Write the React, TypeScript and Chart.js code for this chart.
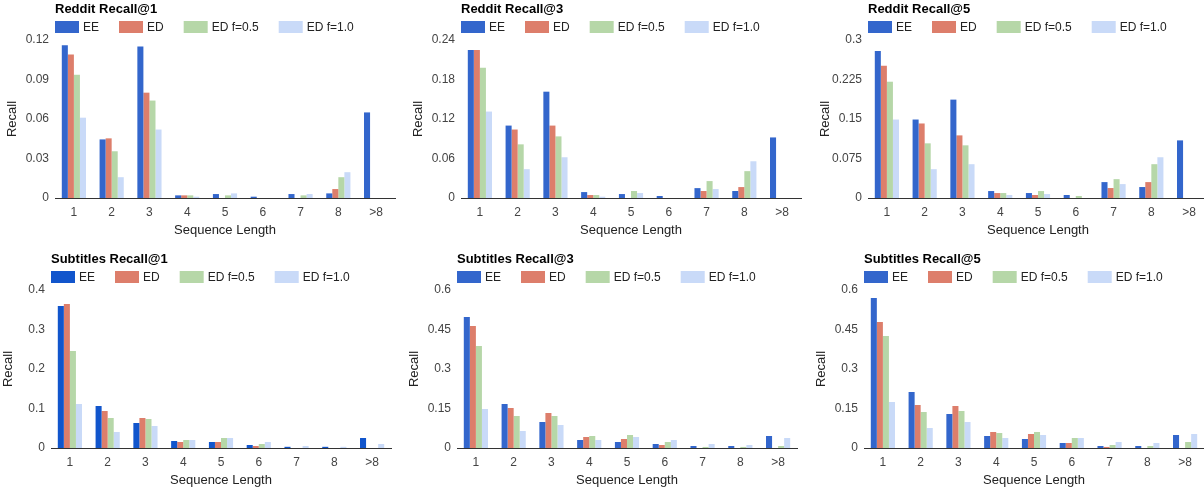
import React, { useEffect, useRef } from "react";
import { Chart, registerables } from "chart.js";

Chart.register(...registerables);

const FONT = '"Liberation Sans", Arial, Helvetica, sans-serif';
Chart.defaults.font.family = FONT;

const categories = ["1", "2", "3", "4", "5", "6", "7", "8", ">8"];
const seriesNames = ["EE", "ED", "ED f=0.5", "ED f=1.0"];

// Reddit Recall@1
const redditR1EE = [0.116, 0.0445, 0.115, 0.002, 0.003, 0.001, 0.003, 0.0035, 0.065];
const redditR1ED = [0.109, 0.0453, 0.08, 0.002, 0, 0, 0, 0.0068, 0];
const redditR1F05 = [0.0936, 0.0355, 0.074, 0.002, 0.002, 0, 0.002, 0.0158, 0];
const redditR1F10 = [0.061, 0.0158, 0.052, 0.001, 0.0035, 0, 0.003, 0.0196, 0];
const redditR1Ticks = ["0", "0.03", "0.06", "0.09", "0.12"];

// Reddit Recall@3
const redditR3EE = [0.225, 0.11, 0.1615, 0.009, 0.006, 0.003, 0.015, 0.0106, 0.092];
const redditR3ED = [0.225, 0.104, 0.11, 0.0045, 0, 0, 0.0106, 0.0166, 0];
const redditR3F05 = [0.1977, 0.0815, 0.0936, 0.0045, 0.0106, 0, 0.0257, 0.0408, 0];
const redditR3F10 = [0.1313, 0.0438, 0.0619, 0.002, 0.0075, 0, 0.0136, 0.0558, 0];
const redditR3Ticks = ["0", "0.06", "0.12", "0.18", "0.24"];

// Reddit Recall@5
const redditR5EE = [0.2792, 0.149, 0.1868, 0.0132, 0.0094, 0.0057, 0.0302, 0.0208, 0.1094];
const redditR5ED = [0.251, 0.1415, 0.1189, 0.0094, 0.0057, 0, 0.0189, 0.0302, 0];
const redditR5F05 = [0.2208, 0.1038, 0.1, 0.0094, 0.0132, 0.0038, 0.0358, 0.0642, 0];
const redditR5F10 = [0.149, 0.0547, 0.0642, 0.0057, 0.0075, 0, 0.0264, 0.0774, 0];
const redditR5Ticks = ["0", "0.075", "0.15", "0.225", "0.3"];

// Subtitles Recall@1
const subsR1EE = [0.3595, 0.1063, 0.0633, 0.0177, 0.0152, 0.0076, 0.003, 0.003, 0.0253];
const subsR1ED = [0.3646, 0.0937, 0.076, 0.0152, 0.0152, 0.005, 0, 0, 0];
const subsR1F05 = [0.2456, 0.076, 0.0734, 0.0203, 0.0253, 0.0101, 0, 0, 0];
const subsR1F10 = [0.1114, 0.0405, 0.0557, 0.0203, 0.0253, 0.0152, 0.005, 0.003, 0.0101];
const subsR1Ticks = ["0", "0.1", "0.2", "0.3", "0.4"];

// Subtitles Recall@3
const subsR3EE = [0.4975, 0.167, 0.0987, 0.0304, 0.0228, 0.0152, 0.0076, 0.0076, 0.0456];
const subsR3ED = [0.4633, 0.152, 0.1329, 0.0418, 0.0342, 0.0114, 0, 0, 0];
const subsR3F05 = [0.3873, 0.1215, 0.1215, 0.0456, 0.0494, 0.0228, 0.004, 0.004, 0.0076];
const subsR3F10 = [0.1481, 0.0646, 0.0873, 0.0304, 0.0418, 0.0304, 0.0152, 0.0114, 0.038];
const subsR3Ticks = ["0", "0.15", "0.3", "0.45", "0.6"];

// Subtitles Recall@5
const subsR5EE = [0.5696, 0.2127, 0.1291, 0.0456, 0.0342, 0.019, 0.0076, 0.0076, 0.0494];
const subsR5ED = [0.4785, 0.1633, 0.1595, 0.0608, 0.0532, 0.019, 0.004, 0, 0];
const subsR5F05 = [0.4253, 0.1367, 0.1405, 0.057, 0.0608, 0.038, 0.0114, 0.0076, 0.0228];
const subsR5F10 = [0.1747, 0.076, 0.0987, 0.038, 0.0494, 0.038, 0.0228, 0.019, 0.0532];
const subsR5Ticks = ["0", "0.15", "0.3", "0.45", "0.6"];

const COLOR_EE = "#3366cc";
const COLOR_EE_DARK = "#1155cc";
const COLOR_ED = "#dd7e6b";
const COLOR_F05 = "#b6d7a8";
const COLOR_F10 = "#c9daf8";

type PanelDef = {
  title: string;
  series: number[][];
  ticks: string[];
  eeColor: string;
  left: number;
  top: number;
};

const panels: PanelDef[] = [
  { title: "Reddit Recall@1", series: [redditR1EE, redditR1ED, redditR1F05, redditR1F10], ticks: redditR1Ticks, eeColor: COLOR_EE, left: 0, top: 0 },
  { title: "Reddit Recall@3", series: [redditR3EE, redditR3ED, redditR3F05, redditR3F10], ticks: redditR3Ticks, eeColor: COLOR_EE, left: 406, top: 0 },
  { title: "Reddit Recall@5", series: [redditR5EE, redditR5ED, redditR5F05, redditR5F10], ticks: redditR5Ticks, eeColor: COLOR_EE, left: 813, top: 0 },
  { title: "Subtitles Recall@1", series: [subsR1EE, subsR1ED, subsR1F05, subsR1F10], ticks: subsR1Ticks, eeColor: COLOR_EE_DARK, left: -4, top: 250 },
  { title: "Subtitles Recall@3", series: [subsR3EE, subsR3ED, subsR3F05, subsR3F10], ticks: subsR3Ticks, eeColor: COLOR_EE, left: 402, top: 250 },
  { title: "Subtitles Recall@5", series: [subsR5EE, subsR5ED, subsR5F05, subsR5F10], ticks: subsR5Ticks, eeColor: COLOR_EE, left: 809, top: 250 },
];

const CANVAS_W = 400;
const CANVAS_H = 240;

const headerPlugin = {
  id: "header",
  afterDraw(chart: any, _args: any, opts: any) {
    const { ctx, chartArea } = chart;
    const x0 = chartArea.left;
    ctx.save();
    ctx.textAlign = "left";
    ctx.textBaseline = "middle";
    ctx.font = `bold 13px ${FONT}`;
    ctx.fillStyle = "#000000";
    ctx.fillText(opts.title, x0, 9);
    ctx.font = `12px ${FONT}`;
    let x = x0;
    chart.data.datasets.forEach((ds: any) => {
      ctx.fillStyle = ds.backgroundColor;
      ctx.fillRect(x, 21, 24, 12);
      ctx.fillStyle = "#222222";
      ctx.fillText(ds.label, x + 28, 27.5);
      x += 28 + ctx.measureText(ds.label).width + 20;
    });
    ctx.restore();
  },
};

function Panel({ def }: { def: PanelDef }) {
  const ref = useRef<HTMLCanvasElement | null>(null);
  useEffect(() => {
    if (!ref.current) return;
    const colors = [def.eeColor, COLOR_ED, COLOR_F05, COLOR_F10];
    const tickVals = def.ticks.map((t) => parseFloat(t));
    const chart = new Chart(ref.current, {
      type: "bar",
      data: {
        labels: categories,
        datasets: def.series.map((s, i) => ({
          label: seriesNames[i],
          data: s,
          backgroundColor: colors[i],
          borderWidth: 0,
          categoryPercentage: 0.64,
          barPercentage: 1.0,
        })),
      },
      options: {
        responsive: false,
        animation: false,
        devicePixelRatio: 1,
        layout: { padding: { top: 40, left: 0, right: 5, bottom: 0 } },
        plugins: {
          legend: { display: false },
          title: { display: false },
          tooltip: { enabled: false },
          header: { title: def.title },
        } as any,
        scales: {
          x: {
            grid: { drawOnChartArea: false, drawTicks: false },
            border: { display: true, color: "#333333", width: 1 },
            ticks: { padding: 7, color: "#444444", font: { size: 12, family: FONT } },
            title: {
              display: true,
              text: "Sequence Length",
              color: "#222222",
              font: { size: 13, family: FONT },
              padding: { top: 2, bottom: 2 },
            },
            afterFit: (s: any) => {
              s.height = 42;
            },
          },
          y: {
            min: 0,
            max: tickVals[tickVals.length - 1],
            afterBuildTicks: (s: any) => {
              s.ticks = tickVals.map((v) => ({ value: v }));
            },
            grid: { display: false, drawTicks: false },
            border: { display: false },
            ticks: {
              padding: 6,
              color: "#444444",
              font: { size: 12, family: FONT },
              callback: (_v: any, i: number) => def.ticks[i],
            },
            title: {
              display: true,
              text: "Recall",
              color: "#222222",
              font: { size: 13, family: FONT },
              padding: { top: 5, bottom: 4 },
            },
            afterFit: (s: any) => {
              s.width = 55;
            },
          },
        },
      },
      plugins: [headerPlugin],
    } as any);
    return () => chart.destroy();
  }, [def]);
  return (
    <canvas
      ref={ref}
      width={CANVAS_W}
      height={CANVAS_H}
      style={{ position: "absolute", left: def.left, top: def.top, width: CANVAS_W, height: CANVAS_H }}
    />
  );
}

export default function App() {
  return (
    <div
      style={{
        position: "absolute",
        left: 0,
        top: 0,
        width: 1204,
        height: 490,
        overflow: "hidden",
        background: "#ffffff",
      }}
    >
      {panels.map((p) => (
        <Panel key={p.title} def={p} />
      ))}
    </div>
  );
}
